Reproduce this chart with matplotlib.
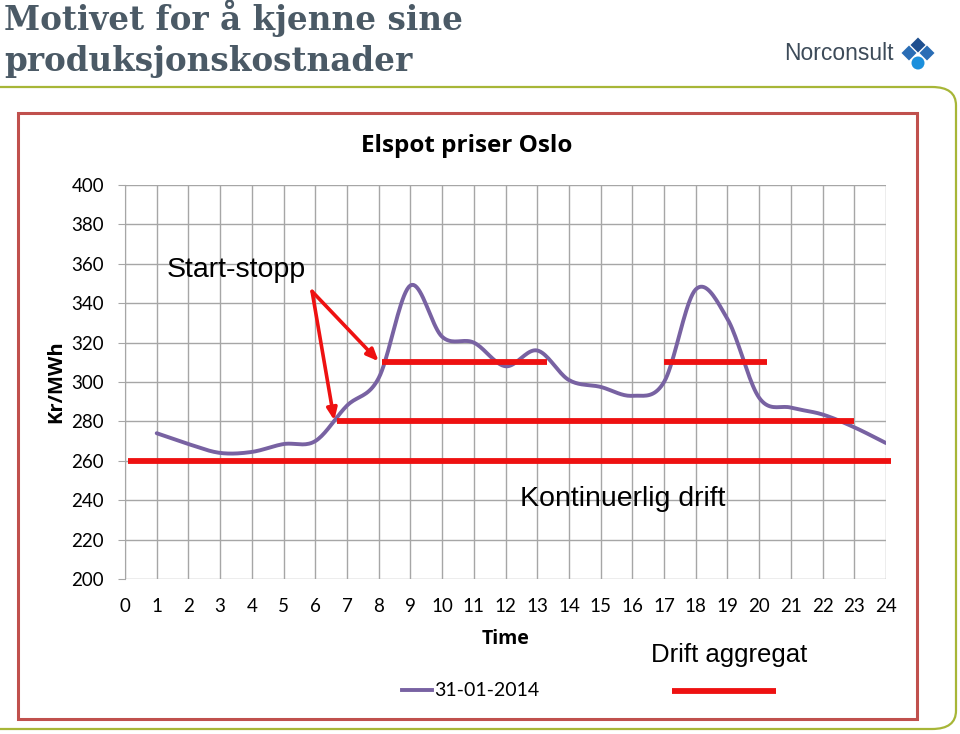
import numpy as np
import matplotlib
matplotlib.use('Agg')
import matplotlib.pyplot as plt
import matplotlib.patches as mpatches
from matplotlib.patches import FancyBboxPatch, Rectangle, Polygon

# ── Data ───────────────────────────────────────────────────
hours = list(range(1, 25))
price = [274, 268.5, 264, 264.5, 268.5, 270, 288, 302, 349, 323,
         320, 308, 316, 301, 297.5, 293, 300, 347, 332, 292,
         287, 283.5, 277, 269]

# Drift aggregat: (x_start, x_slutt, nivå)
drift_lines = [
    (0.1, 24.15, 260),
    (6.7, 23.0, 280),
    (8.1, 13.3, 310),
    (17.0, 20.25, 310),
]
# Start-stopp piler: fra -> til
arrow_from = (5.9, 346)
arrow_to = [(8.0, 310.5), (6.6, 280.5)]

yticks = list(range(200, 401, 20))
xticks = list(range(0, 25))

W, H = 960, 734


def fx(px):
    return px / W


def fy(py):
    return 1 - py / H


def smooth(x, y, n=20):
    # Excel-lignende glatting (Catmull-Rom)
    x = np.asarray(x, float)
    y = np.asarray(y, float)
    px = np.concatenate([[2 * x[0] - x[1]], x, [2 * x[-1] - x[-2]]])
    py = np.concatenate([[2 * y[0] - y[1]], y, [2 * y[-1] - y[-2]]])
    xs, ys = [], []
    t = np.linspace(0, 1, n, endpoint=False)
    for i in range(1, len(px) - 2):
        p0, p1, p2, p3 = [np.array([px[j], py[j]]) for j in (i - 1, i, i + 1, i + 2)]
        c1 = p1 + (p2 - p0) / 6
        c2 = p2 - (p3 - p1) / 6
        b = ((1 - t) ** 3)[:, None] * p1 + (3 * (1 - t) ** 2 * t)[:, None] * c1 \
            + (3 * (1 - t) * t ** 2)[:, None] * c2 + (t ** 3)[:, None] * p2
        xs.extend(b[:, 0])
        ys.extend(b[:, 1])
    xs.append(x[-1])
    ys.append(y[-1])
    return np.array(xs), np.array(ys)


fig = plt.figure(figsize=(9.6, 7.34), dpi=100)

# ── Slide-ramme ────────────────────────────────────────────
green = '#a7b637'
fig.add_artist(FancyBboxPatch((fx(-40), fy(729)), fx(996), fy(87) - fy(729),
                              boxstyle='round,pad=0,rounding_size=0.025',
                              transform=fig.transFigure, fill=False,
                              edgecolor=green, linewidth=1.6))
fig.add_artist(Rectangle((fx(18), fy(719)), fx(899), fy(113) - fy(719),
                         transform=fig.transFigure, fill=False,
                         edgecolor='#c0504d', linewidth=2.2))

fig.text(fx(4), fy(18), 'Motivet for å kjenne sine', fontsize=23.5,
         family='DejaVu Serif', fontweight='bold', color='#4b5a66', va='center')
fig.text(fx(4), fy(62), 'produksjonskostnader', fontsize=23.5,
         family='DejaVu Serif', fontweight='bold', color='#4b5a66', va='center')

# Norconsult-logo
fig.text(fx(784), fy(54), 'Norconsult', fontsize=16.5, family='Liberation Sans',
         color='#3d4b59', va='center')
cx, cy, s = 918, 53, 7.5
for dx, dy, col in [(0, -8, '#1f4f8f'), (-9, 0, '#2a6db5'), (9, 0, '#2a6db5')]:
    x0, y0 = cx + dx, cy + dy
    pts = [(fx(x0), fy(y0 - s)), (fx(x0 + s), fy(y0)),
           (fx(x0), fy(y0 + s)), (fx(x0 - s), fy(y0))]
    fig.add_artist(Polygon(pts, closed=True, transform=fig.transFigure,
                           facecolor=col, edgecolor='none'))
fig.add_artist(mpatches.Ellipse((fx(cx), fy(cy + 10)), fx(13), fy(0) - fy(13),
                                transform=fig.transFigure,
                                facecolor='#1b8fdc', edgecolor='none'))

# ── Diagram ────────────────────────────────────────────────
ax = fig.add_axes([fx(125), fy(579), fx(886 - 125), fy(185) - fy(579)])
ax.set_xlim(0, 24)
ax.set_ylim(200, 400)
ax.set_xticks(xticks)
ax.set_yticks(yticks)
ax.grid(True, color='#a6a6a6', linewidth=1.0)
ax.set_axisbelow(True)
for sp in ax.spines.values():
    sp.set_visible(False)
ax.spines['left'].set_visible(True)
ax.spines['left'].set_color('#a6a6a6')
ax.tick_params(axis='y', length=5, color='#a6a6a6', labelsize=13.5, pad=10)
ax.tick_params(axis='x', length=0, labelsize=13.5, pad=14)
for lab in ax.get_xticklabels() + ax.get_yticklabels():
    lab.set_family('Lato')

sx, sy = smooth(hours, price)
ax.plot(sx, sy, color='#7862a2', linewidth=2.8, solid_capstyle='round', zorder=3)

for x0, x1, lvl in drift_lines:
    ax.plot([x0, x1], [lvl, lvl], color='#ee1111', linewidth=4.2,
            solid_capstyle='butt', clip_on=False, zorder=4)

for tgt in arrow_to:
    ax.annotate('', xy=tgt, xytext=arrow_from,
                arrowprops=dict(arrowstyle='-|>,head_length=0.7,head_width=0.3',
                                color='#ee1111', lw=2.6, shrinkA=0, shrinkB=0),
                zorder=5)

ax.text(1.3, 357, 'Start-stopp', fontsize=20.5, family='Liberation Sans', va='center')
ax.text(12.45, 240.5, 'Kontinuerlig drift', fontsize=20.5, family='Liberation Sans',
        va='center')

fig.text(fx(467), fy(146), 'Elspot priser Oslo', fontsize=17.5, family='Open Sans',
         fontweight='bold', ha='center', va='center')
fig.text(fx(506), fy(639), 'Time', fontsize=14, family='Open Sans',
         fontweight='bold', ha='center', va='center')
fig.text(fx(56), fy(382), 'Kr/MWh', fontsize=14.5, family='Open Sans',
         fontweight='bold', rotation=90, ha='center', va='center')

# Legender
fig.add_artist(plt.Line2D([fx(402), fx(432)], [fy(690), fy(690)],
                          color='#7862a2', linewidth=2.8))
fig.text(fx(434), fy(690), '31-01-2014', fontsize=14, family='Lato',
         va='center')
fig.text(fx(729), fy(655), 'Drift aggregat', fontsize=18.5, family='Liberation Sans',
         ha='center', va='center')
fig.add_artist(plt.Line2D([fx(672), fx(776)], [fy(691), fy(691)],
                          color='#ee1111', linewidth=4.2, solid_capstyle='butt'))

fig.savefig('out.png', dpi=100)
